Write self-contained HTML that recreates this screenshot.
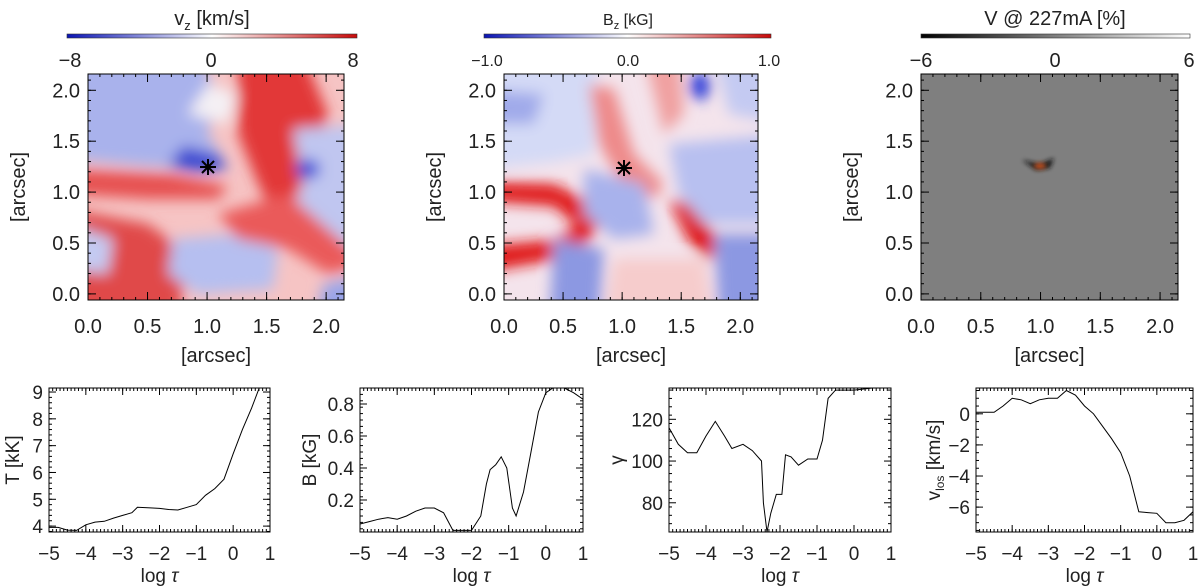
<!DOCTYPE html>
<html><head><meta charset="utf-8">
<style>
html,body{margin:0;padding:0;background:#fff;}
svg{display:block;font-family:"Liberation Sans",sans-serif;}
text{fill:#222;}
</style></head>
<body>
<svg id="fig" width="1200" height="586" viewBox="0 0 1200 586">
<defs>
<linearGradient id="gBR" x1="0" x2="1"><stop offset="0" stop-color="#0a14b4"/><stop offset="0.5" stop-color="#ffffff"/><stop offset="1" stop-color="#c80a0a"/></linearGradient>
<linearGradient id="gBW" x1="0" x2="1"><stop offset="0" stop-color="#000"/><stop offset="1" stop-color="#fff"/></linearGradient>
<filter id="bl" filterUnits="userSpaceOnUse" x="-50" y="-50" width="400" height="350"><feGaussianBlur stdDeviation="7"/></filter>
<filter id="bls" filterUnits="userSpaceOnUse" x="900" y="120" width="200" height="100"><feGaussianBlur stdDeviation="2.5"/></filter>
<clipPath id="c1"><rect x="88" y="74" width="256" height="226"/></clipPath>
<clipPath id="c2"><rect x="504" y="74" width="254" height="226"/></clipPath>
</defs>

<!-- Panel 1 map: vz -->
<g clip-path="url(#c1)">
<rect x="88" y="74" width="256" height="226" fill="#f6c4c4"/>
<g transform="translate(88,74)" filter="url(#bl)">
<path d="M-20,-20 H110 L130,20 L120,60 L135,85 L120,95 L60,92 L-20,85 Z" fill="#a9b2ec"/>
<path d="M95,72 L130,80 L140,95 L110,98 L80,92 Z" fill="#3a48d2"/>
<path d="M150,-20 H215 L240,40 L230,80 L210,120 L190,150 L170,110 L150,60 Z" fill="#e23838"/>
<path d="M-20,95 L80,100 L140,112 L130,125 L60,125 L-20,120 Z" fill="#e65050"/>
<path d="M-20,135 L60,150 L100,180 L90,250 L-20,250 Z" fill="#e04848"/>
<path d="M85,165 L150,160 L190,175 L185,215 L110,220 L80,200 Z" fill="#b6bff0"/>
<path d="M205,55 L280,50 L280,200 L230,190 L200,150 L215,110 Z" fill="#c0c6f0"/>
<ellipse cx="220" cy="95" rx="12" ry="10" fill="#4050d8"/>
<path d="M235,210 L280,200 V250 H228 Z" fill="#9aa4e8"/>
<path d="M-20,150 L25,165 L20,200 L-20,195 Z" fill="#c4caf2"/>
<path d="M130,140 L200,120 L280,190 L240,200 L200,175 L150,165 Z" fill="#ea5a5a"/>
<path d="M100,40 L140,50 L150,20 L120,10 Z" fill="#f4f0f4"/>
</g>
</g>
<rect x="88" y="74" width="256" height="226" fill="none" stroke="#000" stroke-width="1"/>

<!-- Panel 2 map: Bz -->
<g clip-path="url(#c2)">
<rect x="504" y="74" width="254" height="226" fill="#f4e4ec"/>
<g transform="translate(504,74)" filter="url(#bl)">
<path d="M-20,-20 H95 L90,80 L50,88 L-20,95 Z" fill="#d4daf6"/>
<path d="M-20,15 L40,20 L30,50 L-20,50 Z" fill="#a0aaea"/>
<path d="M85,10 L110,15 L130,80 L160,110 L150,125 L115,105 L95,70 Z" fill="#ee8a8a"/>
<path d="M-20,108 L50,110 L85,128 L98,150 L80,158 L50,132 L-20,127 Z" fill="#e01818"/>
<path d="M-20,172 L50,166 L85,143 L96,150 L72,182 L-20,198 Z" fill="#e01818"/>
<path d="M80,95 L140,110 L150,160 L110,165 L80,140 Z" fill="#a8b2ec"/>
<path d="M165,125 L185,130 L214,165 L207,187 L185,167 Z" fill="#de1010"/>
<path d="M165,70 L280,60 L280,150 L200,150 L175,120 Z" fill="#b8c0f0"/>
<ellipse cx="196" cy="12" rx="10" ry="14" fill="#2c3ad8"/>
<path d="M210,-20 L280,-20 L280,50 L225,40 Z" fill="#c4caf2"/>
<path d="M50,165 L100,175 L95,250 L45,250 Z" fill="#8c98e2"/>
<path d="M210,160 L280,160 L280,250 L215,250 Z" fill="#8c98e2"/>
<path d="M140,-20 L175,-20 L180,40 L160,60 Z" fill="#f0a0a0"/>
<path d="M110,185 L200,185 L210,250 L100,250 Z" fill="#f6cccc"/>
</g>
</g>
<rect x="504" y="74" width="254" height="226" fill="none" stroke="#000" stroke-width="1"/>

<!-- Panel 3 map: V -->
<g>
<rect x="921" y="74" width="257" height="226" fill="#7f7f7f"/>
<path d="M1022,160 L1040,164 L1054,158 L1050,168 L1036,170 Z" fill="#141414" filter="url(#bls)"/>
<ellipse cx="1040" cy="166" rx="6" ry="3" fill="#c8501e" filter="url(#bls)"/>
</g>
<rect x="921" y="74" width="257" height="226" fill="none" stroke="#000" stroke-width="1"/>

<!-- markers -->
<g stroke="#000" stroke-width="2">
<line x1="200" y1="167" x2="216" y2="167"/><line x1="208" y1="159" x2="208" y2="175"/><line x1="202" y1="161" x2="214" y2="173"/><line x1="214" y1="161" x2="202" y2="173"/></g>
<g stroke="#000" stroke-width="2">
<line x1="616" y1="168" x2="632" y2="168"/><line x1="624" y1="160" x2="624" y2="176"/><line x1="618" y1="162" x2="630" y2="174"/><line x1="630" y1="162" x2="618" y2="174"/></g>

<!-- colorbars -->
<rect x="67" y="34" width="290" height="4" fill="url(#gBR)" stroke="#333" stroke-width="0.6"/>
<rect x="484" y="34" width="287" height="4" fill="url(#gBR)" stroke="#333" stroke-width="0.6"/>
<rect x="921" y="34" width="269" height="4" fill="url(#gBW)" stroke="#333" stroke-width="0.6"/>
<g font-size="20" text-anchor="middle">
<text x="212" y="25">v<tspan font-size="13" dy="5">z</tspan><tspan dy="-5"> [km/s]</tspan></text>
<text x="70" y="67">−8</text>
<text x="211" y="67">0</text>
<text x="353" y="67">8</text>
<text x="628" y="25" font-size="16">B<tspan font-size="11" dy="4">z</tspan><tspan dy="-4"> [kG]</tspan></text>
<text x="487" y="66" font-size="16">−1.0</text>
<text x="628" y="66" font-size="16">0.0</text>
<text x="769" y="66" font-size="16">1.0</text>
<text x="1055" y="25">V @ 227mA [%]</text>
<text x="921" y="67">−6</text>
<text x="1055" y="67">0</text>
<text x="1189" y="67">6</text>
</g>
<g id="axes"></g>
</svg>
<script>
// ---- chart data ----
const tauT = [-5,-4.75,-4.5,-4.25,-4,-3.75,-3.5,-3.25,-3,-2.75,-2.6,-2.25,-2,-1.75,-1.5,-1.25,-1,-0.75,-0.5,-0.25,0,0.25,0.5,0.72];
const tempKK = [3.95,3.95,3.85,3.84,4.05,4.15,4.18,4.3,4.4,4.5,4.7,4.68,4.66,4.62,4.6,4.7,4.8,5.15,5.4,5.75,6.7,7.6,8.4,9.2];
const tauB = [-5,-4.75,-4.5,-4.25,-4,-3.75,-3.5,-3.25,-3,-2.75,-2.5,-2.25,-2,-1.75,-1.6,-1.5,-1.35,-1.2,-1.05,-0.9,-0.8,-0.6,-0.4,-0.2,0,0.25,0.5,0.75,1];
const fieldKG = [0.05,0.065,0.08,0.09,0.08,0.1,0.13,0.15,0.15,0.12,0.01,0.01,0.01,0.1,0.3,0.39,0.42,0.47,0.4,0.15,0.1,0.25,0.5,0.75,0.87,0.91,0.9,0.87,0.83];
const tauG = [-5,-4.75,-4.5,-4.25,-4,-3.75,-3.5,-3.3,-3,-2.75,-2.5,-2.45,-2.35,-2.25,-2.1,-1.95,-1.85,-1.7,-1.5,-1.25,-1,-0.85,-0.7,-0.5,-0.25,0,0.5,1];
const gammaDeg = [116,108,104,104,112,119,112,106,108,105,100,80,66,75,84,84,103,102,98,101,101,110,130,134,134,134,135,135];
const tauV = [-5,-4.5,-4.25,-4,-3.75,-3.5,-3.25,-3,-2.75,-2.5,-2.25,-2,-1.75,-1.5,-1.25,-1,-0.75,-0.5,-0.25,0,0.25,0.5,0.75,1];
const vlos = [0.1,0.1,0.5,1.0,0.9,0.65,0.9,1.0,1.0,1.5,1.2,0.5,0,-0.8,-1.6,-2.5,-4.0,-6.3,-6.35,-6.4,-7.0,-7.0,-6.85,-6.3];
const tauTicks = ["−5","−4","−3","−2","−1","0","1"];
const tTicks = ["4","5","6","7","8","9"];
const bTicks = ["0.2","0.4","0.6","0.8"];
const gTicks = ["80","100","120"];
const vTicks = ["−6","−4","−2","0"];
const arcTicks = ["0.0","0.5","1.0","1.5","2.0"];

const NS='http://www.w3.org/2000/svg';
const root=document.getElementById('axes');
function mk(tag,attrs,parent){const e=document.createElementNS(NS,tag);for(const k in attrs)e.setAttribute(k,attrs[k]);(parent||root).appendChild(e);return e;}
function lin(d0,d1,r0,r1){return v=>r0+(v-d0)*(r1-r0)/(d1-d0);}

function ticks(g,x0,y0,x1,y1,sx,sy,xMaj,xMin,yMaj,yMin,len){
  const L=len||7;
  xMaj.forEach(v=>{const x=sx(v);mk('line',{x1:x,y1:y1,x2:x,y2:y1-L,stroke:'#000'},g);mk('line',{x1:x,y1:y0,x2:x,y2:y0+L,stroke:'#000'},g);});
  xMin.forEach(v=>{const x=sx(v);mk('line',{x1:x,y1:y1,x2:x,y2:y1-3,stroke:'#000'},g);mk('line',{x1:x,y1:y0,x2:x,y2:y0+3,stroke:'#000'},g);});
  yMaj.forEach(v=>{const y=sy(v);mk('line',{x1:x0,y1:y,x2:x0+L,y2:y,stroke:'#000'},g);mk('line',{x1:x1,y1:y,x2:x1-L,y2:y,stroke:'#000'},g);});
  yMin.forEach(v=>{const y=sy(v);mk('line',{x1:x0,y1:y,x2:x0+3,y2:y,stroke:'#000'},g);mk('line',{x1:x1,y1:y,x2:x1-3,y2:y,stroke:'#000'},g);});
}
function rng(a,b,s){const r=[];for(let v=a;v<=b+1e-9;v+=s)r.push(+v.toFixed(4));return r;}

// map axes
[[88,344],[504,758],[921,1178]].forEach((p,i)=>{
  const g=mk('g',{});
  
  
  const sx=lin(0,2.15,p[0],p[1]), sy=lin(-0.06,2.16,300,74);
  ticks(g,p[0],74,p[1],300,sx,sy,rng(0,2,0.5),rng(0,2.1,0.1),rng(0,2,0.5),rng(0,2.1,0.1),8);
  arcTicks.forEach((t,k)=>{
    const v=k*0.5;
    const tx=mk('text',{x:sx(v),y:333,'font-size':20,'text-anchor':'middle'},g);tx.textContent=t;
    
    
    const ty=mk('text',{x:p[0]-8,y:sy(v)+7,'font-size':20,'text-anchor':'end'},g);ty.textContent=t;
    
    
  });
  const xl=mk('text',{x:(p[0]+p[1])/2,y:362,'font-size':20,'text-anchor':'middle'},g);xl.textContent='[arcsec]';
  
  
  const yx=p[0]-63, yy=187;
  const yl=mk('text',{x:yx,y:yy,'font-size':20,'text-anchor':'middle',transform:`rotate(-90 ${yx} ${yy})`},g);yl.textContent='[arcsec]';
  
  
});

// line plots
const plots=[
 {x0:49,x1:270,tau:tauT,val:tempKK,ymin:3.78,ymax:9.15,yt:tTicks,yv:[4,5,6,7,8,9],ymn:rng(3.8,9.1,0.2),lab:'T [kK]',name:'temperature',lo:36},
 {x0:360,x1:583,tau:tauB,val:fieldKG,ymin:0.0,ymax:0.9,yt:bTicks,yv:[0.2,0.4,0.6,0.8],ymn:rng(0.02,0.9,0.04),lab:'B [kG]',name:'field-strength',lo:50},
 {x0:669,x1:891,tau:tauG,val:gammaDeg,ymin:66,ymax:135,yt:gTicks,yv:[80,100,120],ymn:rng(66,134,4),lab:'γ',name:'inclination',lo:52},
 {x0:976,x1:1193,tau:tauV,val:vlos,ymin:-7.6,ymax:1.66,yt:vTicks,yv:[-6,-4,-2,0],ymn:rng(-7.5,1.5,0.5),lab:'vlos',name:'velocity',lo:42}
];
plots.forEach(P=>{
  const y0=388,y1=532;
  const g=mk('g',{});
  
  
  const sx=lin(-5,1,P.x0,P.x1), sy=lin(P.ymin,P.ymax,y1,y0);
  const cid='cp'+P.name;
  const cp=mk('clipPath',{id:cid},g);mk('rect',{x:P.x0,y:y0,width:P.x1-P.x0,height:y1-y0},cp);
  const d=P.tau.map((t,i)=>(i?'L':'M')+sx(t).toFixed(1)+','+sy(P.val[i]).toFixed(1)).join(' ');
  const path=mk('path',{d:d,fill:'none',stroke:'#000','stroke-width':1,'clip-path':`url(#${cid})`},g);
  
  
  mk('rect',{x:P.x0,y:y0,width:P.x1-P.x0,height:y1-y0,fill:'none',stroke:'#000'},g);
  ticks(g,P.x0,y0,P.x1,y1,sx,sy,rng(-5,1,1),rng(-5,1,0.1),P.yv,P.ymn.filter(v=>v>=P.ymin&&v<=P.ymax),7);
  tauTicks.forEach((t,k)=>{const tx=mk('text',{x:sx(-5+k),y:560,'font-size':19,'text-anchor':'middle'},g);tx.textContent=t;
    
    });
  P.yt.forEach((t,k)=>{const ty=mk('text',{x:P.x0-6,y:sy(P.yv[k])+7,'font-size':19,'text-anchor':'end'},g);ty.textContent=t;
    
    });
  const xl=mk('text',{x:(P.x0+P.x1)/2,y:582,'font-size':19,'text-anchor':'middle'},g);
  xl.innerHTML='log  <tspan font-style="italic">τ</tspan>';
  
  
  const lx=P.x0-P.lo+6, ly=(y0+y1)/2;
  const yl=mk('text',{x:lx,y:ly,'font-size':19,'text-anchor':'middle',transform:`rotate(-90 ${lx} ${ly})`},g);
  if(P.lab==='vlos'){yl.innerHTML='v<tspan font-size="12" dy="4">los</tspan><tspan dy="-4"> [km/s]</tspan>';}
  else yl.textContent=P.lab;
  
  
});
</script>
</body></html>
